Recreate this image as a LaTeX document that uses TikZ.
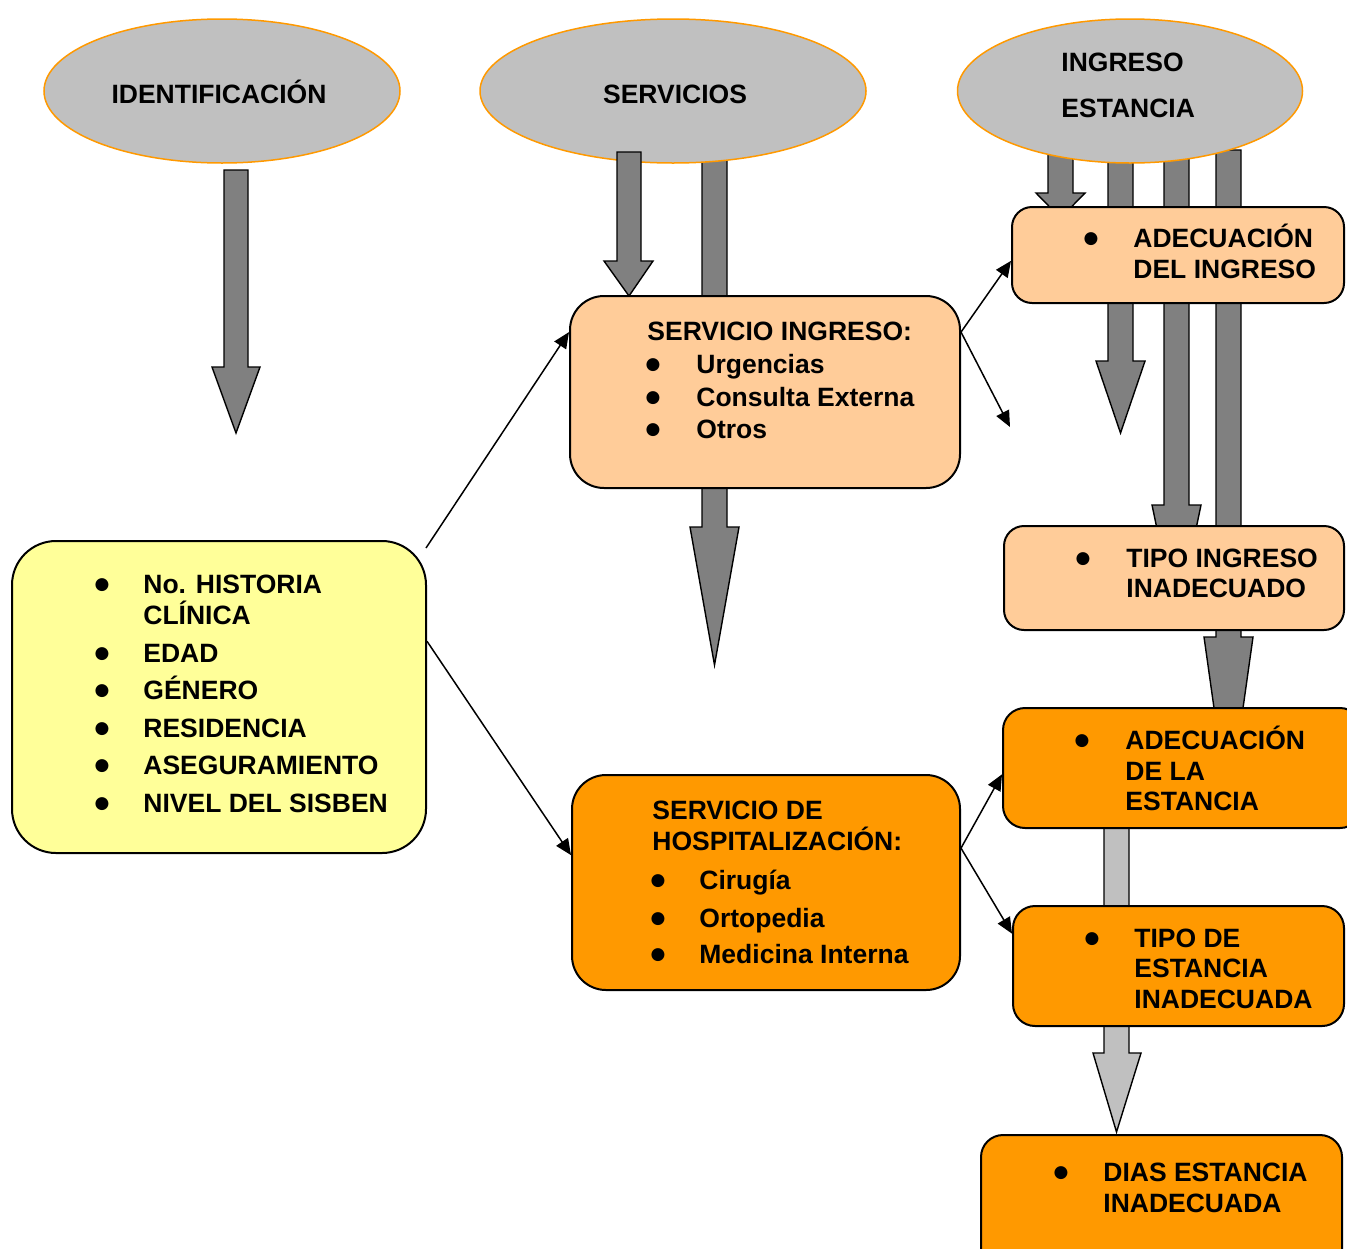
\documentclass[tikz,border=0pt]{standalone}
\usepackage{fontspec}
\setmainfont{Liberation Sans}
\newfontfamily\dejavu{DejaVu Sans}
\usetikzlibrary{shapes.geometric,arrows.meta}
\definecolor{ellgray}{HTML}{C0C0C0}
\definecolor{orng}{HTML}{FF9900}
\definecolor{darkgr}{HTML}{808080}
\definecolor{peach}{HTML}{FFCC99}
\definecolor{lyellow}{HTML}{FFFF99}
\newcommand\blkarr[8]{%
  \path[#1] (#2,#4) -- (#3,#4) -- (#3,#5) -- (#7,#5) -- ({(#2+#3)/2},#8) -- (#6,#5) -- (#2,#5) -- cycle;}
\begin{document}
\begin{tikzpicture}[x=0.5pt,y=-0.5pt,
  txt/.style={anchor=base west, inner sep=0pt, font=\fontsize{13.25}{15}\selectfont\bfseries},
  txtc/.style={anchor=base, inner sep=0pt, font=\fontsize{13.25}{15}\selectfont\bfseries},
  bul/.style={anchor=base, inner sep=0pt, yshift=2pt, font=\dejavu\fontsize{8.5}{10}\selectfont},
  ell/.style={ellipse, draw=orng, fill=ellgray, line width=0.75pt, inner sep=0pt},
  rbox/.style={rectangle, draw=black, line width=1pt, inner sep=0pt},
  blk/.style={draw=black, line width=0.7pt, fill=darkgr},
  blklight/.style={draw=black, line width=0.7pt, fill=ellgray},
  conn/.style={draw=black, line width=0.75pt, -{Triangle[length=8pt,width=7pt]}},
]
\useasboundingbox (0,0) rectangle (1347,1248);
\clip (0,0) rectangle (1347,1248);

% block arrows behind everything
\blkarr{blk}{224}{248}{170}{367}{212}{260}{433}
\blkarr{blk}{702}{727}{150}{527}{690}{739}{665}
\blkarr{blk}{1048}{1073}{150}{193}{1036}{1085}{218}
\blkarr{blk}{1108}{1133}{150}{361}{1096}{1145}{433}
\blkarr{blk}{1164}{1189}{150}{505}{1152}{1201}{622}
\blkarr{blk}{1216}{1241}{150}{637}{1204}{1253}{811}
\blkarr{blklight}{1104}{1129}{800}{1053}{1093}{1141}{1132}

% ellipses
\node[ell, minimum width=178pt, minimum height=72pt] (e1) at (222,91) {};
\node[ell, minimum width=193pt, minimum height=72pt] (e2) at (673,91) {};
\node[ell, minimum width=172.5pt, minimum height=72pt] (e3) at (1130,91) {};

\blkarr{blk}{617}{641}{152}{261}{604}{653}{296}

% boxes
\node[rbox, fill=peach, rounded corners=17pt, minimum width=195pt, minimum height=96pt] (si) at (765,392) {};
\node[rbox, fill=peach, rounded corners=10pt, minimum width=166pt, minimum height=48pt] (adi) at (1178,255) {};
\node[rbox, fill=peach, rounded corners=10pt, minimum width=170pt, minimum height=52pt] (tii) at (1174,578) {};
\node[rbox, fill=lyellow, rounded corners=22pt, minimum width=207pt, minimum height=156pt] (yb) at (219,697) {};
\node[rbox, fill=orng, rounded corners=17pt, minimum width=194pt, minimum height=107.5pt] (hosp) at (766,882.5) {};
\node[rbox, fill=orng, rounded corners=11pt, minimum width=179.5pt, minimum height=60pt] (ade) at (1182.5,768) {};
\node[rbox, fill=orng, rounded corners=11pt, minimum width=165.5pt, minimum height=60pt] (tde) at (1178.5,966) {};
\node[rbox, fill=orng, rounded corners=11pt, minimum width=180.5pt, minimum height=72.5pt] (dias) at (1161.5,1207.5) {};

% connectors
\coordinate (t1s) at (426,548);
\coordinate (t4e) at (1010,427);
\draw[conn] (t1s) -- (si.163.7);
\draw[conn] (yb.15.4) -- (hosp.172.6);
\draw[conn] (si.17.6) -- (adi.182.4);
\draw[conn] (si.17.6) -- (t4e);
\draw[conn] (hosp.10.9) -- (ade.182.9);
\draw[conn] (hosp.10.9) -- (tde.169.2);

% ellipse texts
\node[txtc] (e1t) at (219,103) {IDENTIFICACIÓN};
\node[txtc] (e2t) at (675,103) {SERVICIOS};
\node[txt] (e3t1) at (1061,71) {INGRESO};
\node[txt] (e3t2) at (1061,117) {ESTANCIA};

% servicio ingreso
\node[txt] (si0) at (647,340) {SERVICIO INGRESO:};
\node[bul] (sib1) at (653,373) {●};
\node[txt] (si1) at (696,373) {Urgencias};
\node[bul] (sib2) at (653,406) {●};
\node[txt] (si2) at (696,406) {Consulta Externa};
\node[bul] (sib3) at (653,438) {●};
\node[txt] (si3) at (696,438) {Otros};

% yellow box
\node[bul] (ybb1) at (102,593) {●};
\node[txt] (yb1) at (143,593) {No. HISTORIA};
\node[txt] (yb1b) at (143,624) {CLÍNICA};
\node[bul] (ybb2) at (102,662) {●};
\node[txt] (yb2) at (143,662) {EDAD};
\node[bul] (ybb3) at (102,699) {●};
\node[txt] (yb3) at (143,699) {GÉNERO};
\node[bul] (ybb4) at (102,737) {●};
\node[txt] (yb4) at (143,737) {RESIDENCIA};
\node[bul] (ybb5) at (102,774) {●};
\node[txt] (yb5) at (143,774) {ASEGURAMIENTO};
\node[bul] (ybb6) at (102,812) {●};
\node[txt] (yb6) at (143,812) {NIVEL DEL SISBEN};

% hospitalizacion
\node[txt] (h0a) at (652,819) {SERVICIO DE};
\node[txt] (h0b) at (652,850) {HOSPITALIZACIÓN:};
\node[bul] (hb1) at (658,889) {●};
\node[txt] (h1) at (699,889) {Cirugía};
\node[bul] (hb2) at (658,927) {●};
\node[txt] (h2) at (699,927) {Ortopedia};
\node[bul] (hb3) at (658,963) {●};
\node[txt] (h3) at (699,963) {Medicina Interna};

% right column
\node[bul] (adib) at (1091,247) {●};
\node[txt] (adi1) at (1133,247) {ADECUACIÓN};
\node[txt] (adi2) at (1133,278) {DEL INGRESO};

\node[bul] (tiib) at (1083,567) {●};
\node[txt] (tii1) at (1126,567) {TIPO INGRESO};
\node[txt] (tii2) at (1126,597) {INADECUADO};

\node[bul] (adeb) at (1082,749) {●};
\node[txt] (ade1) at (1125,749) {ADECUACIÓN};
\node[txt] (ade2) at (1125,780) {DE LA};
\node[txt] (ade3) at (1125,810) {ESTANCIA};

\node[bul] (tdeb) at (1092,947) {●};
\node[txt] (tde1) at (1134,947) {TIPO DE};
\node[txt] (tde2) at (1134,977) {ESTANCIA};
\node[txt] (tde3) at (1134,1008) {INADECUADA};

\node[bul] (diasb) at (1061,1181) {●};
\node[txt] (dias1) at (1103,1181) {DIAS ESTANCIA};
\node[txt] (dias2) at (1103,1212) {INADECUADA};
\end{tikzpicture}
\end{document}
